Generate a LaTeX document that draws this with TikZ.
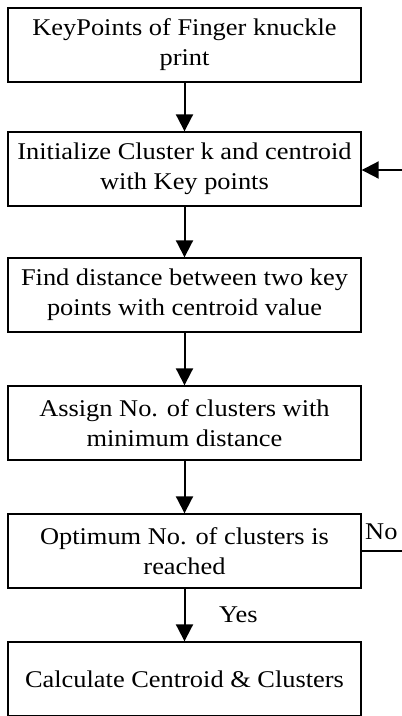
\documentclass[tikz,border=0pt]{standalone}
\usepackage{fontspec}
\setmainfont{Liberation Serif}[FakeStretch=1.1]
\usetikzlibrary{arrows.meta}
\begin{document}
\begin{tikzpicture}[x=1pt,y=-1pt,
  procbox/.style={draw=black,line width=1.4pt,minimum width=353pt,minimum height=74pt,inner sep=0pt,align=center,font=\fontsize{24}{30}\selectfont},
  flow/.style={line width=2pt,-{Triangle[length=17pt,width=17pt]}},
  lbl/.style={font=\fontsize{24}{30}\selectfont,inner sep=0pt}]
\useasboundingbox (0,0) rectangle (402,716);
\node[procbox] (b1) at (184.5,45) {KeyPoints of Finger knuckle\\print};
\node[procbox] (b2) at (184.5,169) {Initialize Cluster k and centroid\\with Key points};
\node[procbox] (b3) at (184.5,295) {Find distance between two key\\points with centroid value};
\node[procbox] (b4) at (184.5,423) {Assign No. of clusters with\\minimum distance};
\node[procbox] (b5) at (184.5,551) {Optimum No. of clusters is\\reached};
\node[procbox] (b6) at (184.5,679) {Calculate Centroid \& Clusters};
\draw[flow] (b1) -- (b2);
\draw[flow] (b2) -- (b3);
\draw[flow] (b3) -- (b4);
\draw[flow] (b4) -- (b5);
\draw[flow] (b5) -- (b6);
\coordinate (r5) at (404,551);
\coordinate (r2) at (404,170);
\draw[line width=2pt] (b5.east) -- (r5);
\draw[flow] (r2) -- (b2.east |- r2);
\node[lbl,anchor=west] (no) at (365,532) {No};
\node[lbl,anchor=west] (yes) at (219,615) {Yes};
\end{tikzpicture}
\end{document}
